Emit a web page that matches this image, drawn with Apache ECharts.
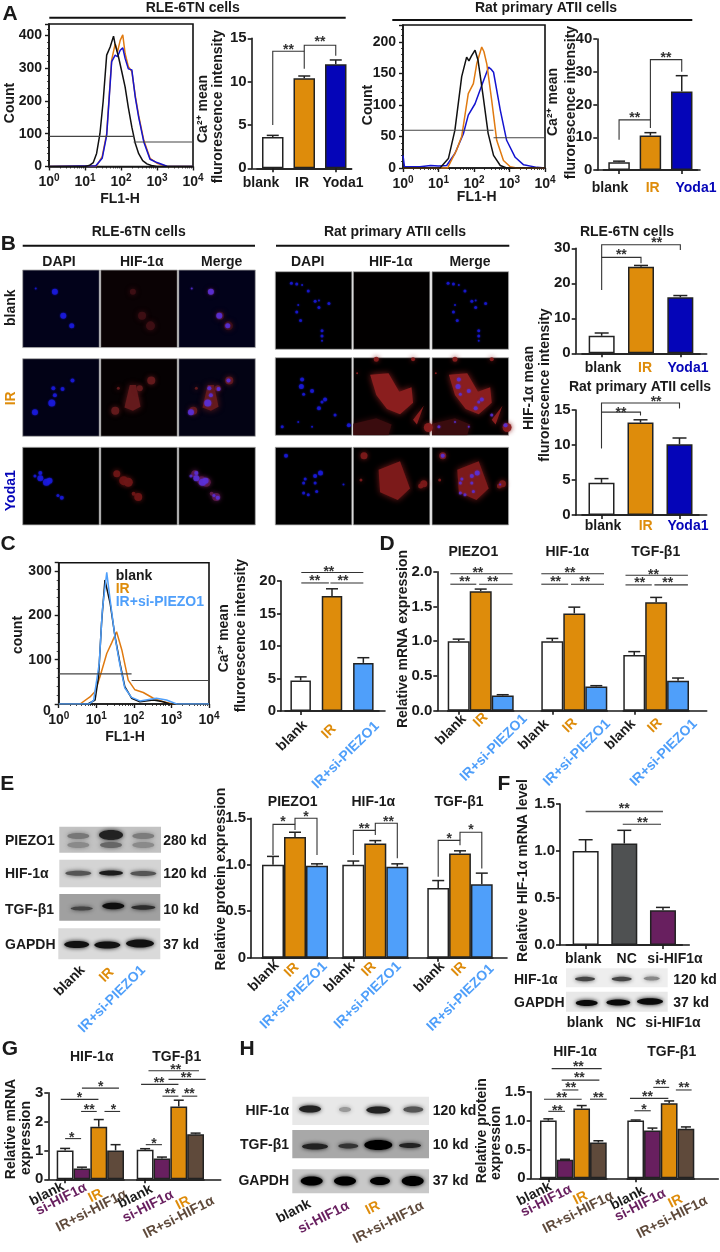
<!DOCTYPE html>
<html>
<head>
<meta charset="utf-8">
<style>html,body{margin:0;padding:0;background:#fff}#main{width:720px;height:1252px}</style>
<script src="https://cdn.jsdelivr.net/npm/echarts@6/dist/echarts.min.js"></script>
</head>
<body>
<div id="main"></div>
<script>
// ---- values ----
const threeYoda = ['blank', 'IR', 'Yoda1'];
const threePiezo = ['blank', 'IR', 'IR+si-PIEZO1'];
const threeF = ['blank', 'NC', 'si-HIF1α'];
const fourHif = ['blank', 'si-HIF1α', 'IR', 'IR+si-HIF1α'];

const a1Values = [3.6, 10.4, 12.0], a1Errors = [0.2, 0.25, 0.5];
const a2Values = [2.4, 10.5, 24.0], a2Errors = [0.3, 0.9, 4.8];
const b1Values = [5.0, 24.7, 16.0], b1Errors = [0.8, 0.4, 0.5];
const b2Values = [4.6, 13.2, 10.1], b2Errors = [0.6, 0.4, 0.9];
const cValues = [4.7, 17.7, 7.4], cErrors = [0.55, 1.1, 0.8];
const dPiezo = [1.0, 1.72, 0.22], dPiezoErr = [0.03, 0.03, 0.01];
const dHif = [1.0, 1.4, 0.35], dHifErr = [0.04, 0.09, 0.01];
const dTgf = [0.8, 1.56, 0.43], dTgfErr = [0.05, 0.07, 0.04];
const ePiezo = [1.0, 1.3, 0.99], ePiezoErr = [0.09, 0.05, 0.02];
const eHif = [1.0, 1.23, 0.98], eHifErr = [0.04, 0.03, 0.03];
const eTgf = [0.75, 1.12, 0.79], eTgfErr = [0.08, 0.03, 0.12];
const fValues = [1.0, 1.08, 0.37], fErrors = [0.12, 0.14, 0.03];
const gHif = [1.0, 0.37, 1.82, 1.0], gHifErr = [0.07, 0.05, 0.25, 0.2];
const gTgf = [1.02, 0.72, 2.52, 1.56], gTgfErr = [0.04, 0.05, 0.22, 0.04];
const hHif = [1.0, 0.32, 1.21, 0.62], hHifErr = [0.03, 0.01, 0.05, 0.03];
const hTgf = [1.0, 0.83, 1.3, 0.86], hTgfErr = [0.01, 0.04, 0.04, 0.03];

// flow histograms, [FL1-H, count]
const a1Black = [[1,0],[10,0],[13,3],[17,12],[21,40],[26,100],[32,200],[40,340],[50,365],[62,398],[68,375],[85,335],[105,290],[130,243],[160,180],[200,120],[250,70],[310,39],[400,18],[525,8],[700,3],[1000,0],[10000,0]];
const a1Orange = [[1,0],[21,2],[30,30],[40,100],[55,325],[69,375],[80,350],[95,385],[112,402],[130,345],[160,305],[200,290],[250,215],[310,155],[430,80],[640,25],[1000,10],[1900,0],[10000,0]];
const a1Blue = [[1,0],[20,2],[30,25],[40,95],[55,320],[69,340],[80,335],[95,355],[112,362],[130,330],[160,298],[200,295],[250,210],[310,150],[430,75],[640,22],[1000,12],[1900,1],[10000,0]];
const a2Black = [[1,0],[11,0],[19,15],[29,60],[45,145],[62,176],[72,170],[85,178],[107,187],[130,171],[182,113],[250,55],[355,20],[550,4],[830,0],[10000,0]];
const a2Orange = [[1,0],[18,0],[32,28],[45,50],[69,118],[96,134],[120,166],[165,192],[190,185],[230,165],[316,107],[436,44],[676,12],[1050,2],[1600,0],[10000,0]];
const a2Blue = [[1,20],[1.1,2],[3,2],[6,4],[10,3],[17,4],[29,23],[50,54],[69,84],[107,102],[165,131],[257,160],[300,157],[355,152],[550,92],[830,44],[1445,17],[2500,5],[5900,1],[10000,0]];
const cBlack = [[1,0],[6,0],[9.3,9],[11.5,62],[13.8,182],[17,280],[19,283],[23.4,227],[31.6,152],[42.7,92],[57.5,39],[87,13],[145,5],[331,9],[600,5],[900,0],[10000,0]];
const cOrange = [[1,0],[3.7,0],[6.8,16],[9.3,28],[12.6,62],[19,114],[25.7,138],[34.7,163],[47.9,122],[70.8,54],[107,32],[178,26],[331,13],[600,5],[1120,0],[10000,0]];
const cSky = [[1,0],[6.5,0],[8.5,8],[12,92],[14.5,212],[19,297],[23.4,235],[31.6,150],[42.7,88],[57.5,36],[87,15],[145,7],[398,13],[741,9],[1380,0],[10000,0]];

// micrographs, [x%, y%, size] for spots, polygons in %
const nucleiLeftBlank = [[42,28,6],[53,59,6],[64,72,5],[17,24,2]];
const nucleiLeftIr = [[16,69,6],[38,57,7],[42,47,4],[52,39,4],[65,28,4],[40,38,4]];
const nucleiLeftYoda = [[23,40,6],[31,45,7],[16,37,3],[35,43,6],[23,33,4],[51,65,4],[46,62,3]];
const nucleiRightBlank = [[21,15,3],[28,16,3],[35,17,2],[43,25,3],[52,38,3],[57,37,2],[70,41,3],[57,46,3],[30,43,2],[28,52,3],[33,63,3],[61,76,3],[61,83,3],[61,89,2]];
const nucleiRightIr = [[35,28,4],[34,37,5],[37,47,3],[48,43,4],[65,54,4],[61,57,3],[57,65,4],[78,74,3],[9,89,3],[30,83,2],[96,87,4],[48,89,2]];
const nucleiRightYoda = [[14,11,4],[59,33,5],[52,37,4],[39,41,3],[52,46,3],[37,46,3],[54,57,3],[43,61,3],[37,59,3],[89,48,2]];

const spotsLeftBlank = [[42,28,6],[54,59,8],[65,72,9]];
const spotsLeftIr = [[66,28,8],[51,38,6],[19,67,8],[23,38,3]];
const spotsLeftYoda = [[30,43,9],[21,34,7],[36,45,9],[49,64,8],[43,60,4]];
const spotsRightIr = [[30,2,5],[78,2,4],[98,90,9],[5,20,2]];
const spotsRightYoda = [[14,11,7],[92,47,7],[88,50,5],[10,42,3]];
const polysLeftIr = [[[31,63],[38,34],[46,34],[52,62],[42,67]]];
const polysRightIr = [
  [[22,22],[46,20],[60,44],[76,38],[78,58],[61,73],[44,66],[30,48]],
  [[78,80],[92,62],[83,86]]
];
const polysRightIrDim = [[[0,85],[30,78],[50,86],[46,100],[0,100]]];
const polysRightYoda = [[[33,29],[61,18],[74,53],[58,68],[35,58]]];

// ---- styles ----
const FONT = '"Liberation Sans", Arial, sans-serif';
const INK = '#1a1a1a', ORANGE = '#DE8C0B', BLUE = '#0505B8', SKY = '#4F9FFA', PURPLE = '#681F5F', BROWN = '#5F4A3B', SLATE = '#4F5152';
const labelColor = {blank: INK, NC: INK, IR: ORANGE, Yoda1: BLUE, 'IR+si-PIEZO1': SKY, 'si-HIF1α': PURPLE, 'IR+si-HIF1α': BROWN};
const yodaFill = ['#fff', ORANGE, BLUE], piezoFill = ['#fff', ORANGE, SKY], hifFill = ['#fff', PURPLE, ORANGE, BROWN];

const option = {animation: false, backgroundColor: '#fff', grid: [], xAxis: [], yAxis: [], series: [], graphic: {elements: []}};
const texts = option.graphic.elements;

function txt(x, y, text, o) {
  o = o || {};
  texts.push({
    type: 'text', x: x, y: y, rotation: o.rot || 0, z: 50,
    style: {
      text: text, fill: o.color || INK, font: 'bold ' + (o.size || 14) + 'px ' + FONT,
      textAlign: o.align || 'center', textVerticalAlign: 'middle', align: o.align || 'center', verticalAlign: 'middle'
    }
  });
}
function vtxt(x, y, text, o) { txt(x, y, text, Object.assign({rot: Math.PI / 2}, o)); }
function rule(x0, x1, y) {
  texts.push({type: 'rect', shape: {x: x0, y: y - 1, width: x1 - x0, height: 2}, style: {fill: '#111'}, z: 50});
}

function addGrid(left, right, top, bottom, extra) {
  option.grid.push(Object.assign({left: left, top: top, width: right - left, height: bottom - top}, extra));
  return option.grid.length - 1;
}

const axisLine = {show: true, onZero: false, lineStyle: {color: INK, width: 1.6}};

// one bar chart: frame grid carries the y axis and the long base line,
// each group gets its own category axis on the same y scale
function barPanel(p) {
  const f = addGrid(p.axis, p.end, p.top, p.bottom);
  option.xAxis.push({gridIndex: f, type: 'category', data: [''], axisLine: axisLine, axisTick: {show: false}, axisLabel: {show: false}});
  option.yAxis.push({
    gridIndex: f, type: 'value', min: 0, max: p.max, interval: p.step, splitLine: {show: false}, axisLine: axisLine,
    axisTick: {show: true, length: 4, lineStyle: {color: INK, width: 1.6}},
    axisLabel: {color: INK, fontFamily: FONT, fontWeight: 'bold', fontSize: 15, margin: 5, formatter: p.fmt}
  });
  p.groups.forEach((g) => {
    const i = addGrid(g.left, g.right, p.top, p.bottom);
    option.xAxis.push({
      gridIndex: i, type: 'category', data: g.names,
      axisLine: axisLine, axisTick: {show: true, alignWithLabel: true, length: 4, lineStyle: {color: INK, width: 1.6}},
      axisLabel: {show: false}
    });
    option.yAxis.push({gridIndex: i, type: 'value', min: 0, max: p.max, show: false, splitLine: {show: false}});
    // the labels sit off their ticks in the picture, so they are placed one by one
    g.names.forEach((n, k) => {
      txt(g.at[k][0], g.at[k][1], n, {
        color: g.plain ? INK : labelColor[n],
        rot: (g.rot || 0) * Math.PI / 180,
        align: g.rot ? 'right' : 'center'
      });
    });
    option.series.push({
      type: 'bar', xAxisIndex: i, yAxisIndex: i, barWidth: g.barWidth, z: 3,
      data: g.values.map((v, k) => ({value: v, itemStyle: {color: g.fill[k], borderColor: '#222', borderWidth: 1.5}}))
    });
    const cap = g.cap || 6;
    option.series.push({
      type: 'custom', xAxisIndex: i, yAxisIndex: i, z: 2,
      data: g.values.map((v, k) => [k, v, v + g.errors[k]]),
      renderItem: (params, api) => {
        const a = api.coord([api.value(0), api.value(1)]), b = api.coord([api.value(0), api.value(2)]);
        return {type: 'group', children: [
          {type: 'line', shape: {x1: a[0], y1: a[1], x2: b[0], y2: b[1]}, style: {stroke: '#222', lineWidth: 1.5}},
          {type: 'line', shape: {x1: b[0] - cap, y1: b[1], x2: b[0] + cap, y2: b[1]}, style: {stroke: '#222', lineWidth: 1.5}}
        ]};
      }
    });
    if (g.marks) {
      option.series.push({
        type: 'custom', xAxisIndex: i, yAxisIndex: i, z: 6, silent: true,
        data: g.marks.map((m, k) => [0, 0, k]),
        renderItem: (params, api) => {
          const m = g.marks[api.value(2)];
          const step = api.size([1, 0])[0], x0 = api.coord([0, 0])[0];
          // mark x is counted in bands from the left edge of the group, 0.5 is the first bar
          const at = (q) => [x0 + (q[0] - 0.5) * step, api.coord([0, q[1]])[1]];
          const c = at(m.at);
          return {type: 'group', children: [
            {type: 'polyline', shape: {points: m.p.map(at)}, style: {fill: 'none', stroke: m.gray ? '#555' : '#333', lineWidth: m.gray ? 1.6 : 1.1}},
            {type: 'text', style: {x: c[0], y: c[1] + 3, text: m.s, fill: '#333', font: 'bold 14px ' + FONT, textAlign: 'center', textVerticalAlign: 'middle', align: 'center', verticalAlign: 'middle'}}
          ]};
        }
      });
    }
  });
}

function flat(x0, x1, y, s, sx, sy) { return {p: [[x0, y], [x1, y]], s: s, at: [sx, sy]}; }

// flow histogram on a log x axis
function histPanel(p) {
  const i = addGrid(p.left, p.right, p.top, p.bottom, {show: true, borderColor: '#111', borderWidth: 1.6, backgroundColor: '#fff'});
  option.xAxis.push({
    gridIndex: i, type: 'log', logBase: 10, min: 1, max: 10000, splitLine: {show: false}, axisLine: axisLine,
    axisTick: {show: true, length: 4, lineStyle: {color: INK, width: 1.4}},
    minorTick: {show: true, splitNumber: 9, length: 2, lineStyle: {color: INK, width: 0.8}}, minorSplitLine: {show: false},
    axisLabel: {
      showMinLabel: true, showMaxLabel: true, margin: 7, color: INK, fontFamily: FONT, fontWeight: 'bold', fontSize: 14,
      formatter: (v) => '10{s|' + Math.round(Math.log10(v)) + '}',
      rich: {s: {fontSize: 10, fontFamily: FONT, fontWeight: 'bold', color: INK, verticalAlign: 'top', padding: [0, 0, 8, 0]}}
    }
  });
  option.yAxis.push({
    gridIndex: i, type: 'value', min: 0, max: p.max, interval: p.step, splitLine: {show: false}, axisLine: axisLine,
    axisTick: {show: true, length: 4, lineStyle: {color: INK, width: 1.4}},
    minorTick: {show: true, splitNumber: 5, length: 2, lineStyle: {color: INK, width: 0.8}},
    axisLabel: {
      color: INK, fontFamily: FONT, fontWeight: 'bold', fontSize: 14, margin: 7,
      formatter: (v) => (v % p.step !== 0 || (p.noZero && v === 0) ? '' : v)
    }
  });
  p.curves.forEach((c) => {
    option.series.push({type: 'line', xAxisIndex: i, yAxisIndex: i, data: c[0], showSymbol: false, silent: true, lineStyle: {color: c[1], width: 1.5}, z: c[2] || 3});
  });
  p.gates.forEach((g) => {
    option.series.push({type: 'line', xAxisIndex: i, yAxisIndex: i, data: g, showSymbol: false, silent: true, lineStyle: {color: '#444', width: 1.1}, z: 5});
  });
}

// micrograph tile
function photo(left, top, bg, reds, polys, redColor, nuclei, nucleiColor, dimPolys) {
  const i = addGrid(left, left + 76.6, top, top + 77.6, {show: true, backgroundColor: bg, borderColor: '#aaa', borderWidth: 0.8});
  option.xAxis.push({gridIndex: i, type: 'value', min: 0, max: 100, show: false});
  option.yAxis.push({gridIndex: i, type: 'value', min: 0, max: 100, inverse: true, show: false});
  const polyLayer = (list, fill, z) => {
    option.series.push({
      type: 'custom', xAxisIndex: i, yAxisIndex: i, silent: true, clip: true, z: z,
      data: list.map((q, k) => [0, 0, k]),
      renderItem: (params, api) => ({
        type: 'polygon', shape: {points: list[api.value(2)].map((q) => api.coord(q))},
        style: {fill: fill, shadowBlur: 6, shadowColor: fill}
      })
    });
  };
  if (dimPolys) polyLayer(dimPolys, '#3a0c0e', 1);
  if (polys) polyLayer(polys, redColor, 2);
  if (reds) {
    option.series.push({
      type: 'scatter', xAxisIndex: i, yAxisIndex: i, silent: true, clip: true, z: 3, data: reds, symbolSize: (d) => d[2],
      itemStyle: {color: redColor, opacity: 0.95, shadowBlur: 5, shadowColor: redColor}
    });
  }
  if (nuclei) {
    option.series.push({
      type: 'scatter', xAxisIndex: i, yAxisIndex: i, silent: true, clip: true, z: 4, data: nuclei, symbolSize: (d) => d[2],
      itemStyle: {color: nucleiColor, shadowBlur: 2, shadowColor: nucleiColor}
    });
  }
}

function blot(x, y, w, h, bg, bands) {
  texts.push({type: 'rect', shape: {x: x, y: y, width: w, height: h}, style: {fill: bg}, z: 40});
  bands.forEach((b) => {
    texts.push({type: 'ellipse', shape: {cx: b[0], cy: b[1], rx: b[2], ry: b[3]}, style: {fill: b[4], shadowBlur: 4, shadowColor: b[4]}, z: 41});
  });
}

// ---- panel A ----
txt(10, 14, 'A', {size: 21, align: 'center'});
txt(192.7, 8.3, 'RLE-6TN cells');
rule(49.3, 345.7, 17.7);
txt(546, 8.3, 'Rat primary ATII cells');
rule(392.3, 692.3, 20);

histPanel({left: 49, right: 193, top: 24, bottom: 166.5, max: 435, step: 100,
  curves: [[a1Orange, '#E07A10'], [a1Blue, '#1414D0', 4], [a1Black, '#111', 5]],
  gates: [[[1, 92], [224, 92]], [[224, 75], [10000, 75]]]});
vtxt(10, 103, 'Count');
txt(120, 199, 'FL1-H');

barPanel({axis: 251.7, end: 351.5, top: 38.3, bottom: 168.3, max: 15, step: 5, groups: [{
  left: 257, right: 351.5, names: threeYoda, plain: true, values: a1Values, errors: a1Errors, fill: yodaFill, barWidth: 21.5,
  at: [[261, 182.7], [302, 182.7], [343, 182.7]],
  marks: [
    {p: [[0.5, 5], [0.5, 13.5], [1.5, 13.5], [1.5, 11.5]], s: '**', at: [1, 14]},
    {p: [[1.5, 13.5], [1.5, 14.2], [2.5, 14.2], [2.5, 13]], s: '**', at: [2, 14.9]}
  ]
}]});
vtxt(203, 109, 'Ca²⁺ mean');
vtxt(218, 106.7, 'flurorescence intensity');

histPanel({left: 403, right: 545, top: 25, bottom: 168, max: 227, step: 50,
  curves: [[a2Orange, '#E07A10', 4], [a2Blue, '#1414D0'], [a2Black, '#111', 5]],
  gates: [[[1, 60], [355, 60]], [[355, 48], [10000, 48]]]});
vtxt(368, 105, 'Count');
txt(476.7, 197, 'FL1-H');

barPanel({axis: 597.3, end: 700, top: 39, bottom: 170, max: 40, step: 10, groups: [{
  left: 603.4, right: 697.4, names: threeYoda, values: a2Values, errors: a2Errors, fill: yodaFill, barWidth: 21.5,
  at: [[610, 188], [652.7, 188], [696, 188]],
  marks: [
    {p: [[0.5, 9.2], [0.5, 15.3], [1.5, 15.3], [1.5, 12.8]], s: '**', at: [1, 16.6]},
    {p: [[1.5, 15.3], [1.5, 33.7], [2.5, 33.7], [2.5, 30]], s: '**', at: [2, 35.2]}
  ]
}]});
vtxt(553.3, 102, 'Ca²⁺ mean');
vtxt(570.7, 102.5, 'flurorescence intensity');

// ---- panel B ----
txt(8.3, 244, 'B', {size: 21});
txt(138.7, 231.7, 'RLE-6TN cells');
rule(22.7, 255, 245.7);
txt(395, 231.7, 'Rat primary ATII cells');
rule(276, 509.3, 245.7);
[[59, 'DAPI'], [141.7, 'HIF-1α'], [221.7, 'Merge'], [307.7, 'DAPI'], [390.7, 'HIF-1α'], [470, 'Merge']].forEach((h) => txt(h[0], 262.3, h[1]));
vtxt(11, 307.7, 'blank');
vtxt(11, 398.3, 'IR', {color: ORANGE});
vtxt(11, 490.7, 'Yoda1', {color: BLUE});

const leftX = [22.7, 100.7, 178.7], rightX = [275.3, 353.3, 432];
const DAPI = '#1a1ae0', MERGE = '#5a30d8';
photo(leftX[0], 270, '#02021a', null, null, null, nucleiLeftBlank, DAPI);
photo(leftX[1], 270, '#0a0204', spotsLeftBlank, null, '#3e0f14');
photo(leftX[2], 270, '#02021a', spotsLeftBlank, null, '#3e0f14', nucleiLeftBlank, MERGE);
photo(leftX[0], 358.7, '#020216', null, null, null, nucleiLeftIr, DAPI);
photo(leftX[1], 358.7, '#050102', spotsLeftIr, polysLeftIr, '#641a1c');
photo(leftX[2], 358.7, '#030314', spotsLeftIr, polysLeftIr, '#641a1c', nucleiLeftIr, MERGE);
photo(leftX[0], 447.3, '#000', null, null, null, nucleiLeftYoda, DAPI);
photo(leftX[1], 447.3, '#000', spotsLeftYoda, null, '#6e1616');
photo(leftX[2], 447.3, '#000', spotsLeftYoda, null, '#5e1a48', nucleiLeftYoda, MERGE);
photo(rightX[0], 271.7, '#000', null, null, null, nucleiRightBlank, DAPI);
photo(rightX[1], 271.7, '#020000', null, null, null);
photo(rightX[2], 271.7, '#000', null, null, null, nucleiRightBlank, DAPI);
photo(rightX[0], 357.7, '#000', null, null, null, nucleiRightIr, DAPI);
photo(rightX[1], 357.7, '#000', spotsRightIr, polysRightIr, '#8a1e1e', null, null, polysRightIrDim);
photo(rightX[2], 357.7, '#000', spotsRightIr, polysRightIr, '#8a1e1e', nucleiRightIr, MERGE, polysRightIrDim);
photo(rightX[0], 447.3, '#000', null, null, null, nucleiRightYoda, DAPI);
photo(rightX[1], 447.3, '#000', spotsRightYoda, polysRightYoda, '#7c1a1a');
photo(rightX[2], 447.3, '#000', spotsRightYoda, polysRightYoda, '#7c1a1a', nucleiRightYoda, MERGE);

txt(627, 231.7, 'RLE-6TN cells');
barPanel({axis: 575.7, end: 706.7, top: 248.3, bottom: 353.3, max: 30, step: 10, groups: [{
  left: 582, right: 700, names: threeYoda, values: b1Values, errors: b1Errors, fill: yodaFill, barWidth: 26, cap: 7,
  at: [[603, 367.7], [645, 367.7], [688, 367.7]],
  marks: [
    {p: [[0.5, 18.1], [0.5, 27.4], [1.5, 27.4], [1.5, 25.7]], s: '**', at: [1, 28.8]},
    {p: [[0.5, 27.4], [0.5, 31], [2.5, 31], [2.5, 29.5]], s: '**', at: [1.9, 32.2]}
  ]
}]});
txt(640, 387.3, 'Rat primary ATII cells');
barPanel({axis: 575.7, end: 706.7, top: 410, bottom: 515, max: 15, step: 5, groups: [{
  left: 582, right: 699, names: threeYoda, values: b2Values, errors: b2Errors, fill: yodaFill, barWidth: 26, cap: 7,
  at: [[603, 525.7], [645.7, 525.7], [688, 525.7]],
  marks: [
    {p: [[0.5, 9.5], [0.5, 14.7], [1.5, 14.7], [1.5, 14.2]], s: '**', at: [1, 15]},
    {p: [[0.5, 14.7], [0.5, 16], [2.5, 16], [2.5, 15.2]], s: '**', at: [1.9, 16.5]}
  ]
}]});
vtxt(529, 388, 'HIF-1α mean');
vtxt(545, 385, 'flurorescence intensity');

// ---- panel C ----
txt(8, 544, 'C', {size: 21});
histPanel({left: 58.7, right: 209, top: 562.7, bottom: 704, max: 319, step: 100, noZero: true,
  curves: [[cOrange, '#E07A10'], [cBlack, '#111', 4], [cSky, SKY, 5]],
  gates: [[[1, 68], [87, 68]], [[87, 53], [10000, 53]]]});
txt(47, 711, '0');
vtxt(18.3, 635, 'count');
txt(125, 737, 'FL1-H');
txt(115.7, 575.7, 'blank', {align: 'left'});
txt(115.7, 589, 'IR', {align: 'left', color: ORANGE});
txt(115.7, 602.3, 'IR+si-PIEZO1', {align: 'left', color: SKY});

barPanel({axis: 281, end: 385, top: 581, bottom: 711, max: 20, step: 5, groups: [{
  left: 285, right: 379, names: threePiezo, values: cValues, errors: cErrors, fill: piezoFill, barWidth: 20.5, rot: 45,
  at: [[305, 723], [334, 726.7], [377, 724]],
  marks: [
    flat(0.52, 1.4, 19.7, '**', 0.95, 20.4),
    flat(1.45, 2.5, 19.7, '**', 1.85, 20.4),
    flat(0.52, 2.5, 21.3, '**', 1.4, 21.9)
  ]
}]});
vtxt(224, 638.3, 'Ca²⁺ mean');
vtxt(240.7, 635.7, 'flurorescence intensity');

// ---- panel D ----
txt(387, 544, 'D', {size: 21});
const one = (v) => v.toFixed(1);
const dMarks = (off, y0, y1, a, b, c, d, s1, s2, s3) => [
  flat(a + off, b + off, y0, '**', s1 + off, y0 + 0.07),
  flat(c + off, d + off, y0, '**', s2 + off, y0 + 0.07),
  flat(a + off, d + off, y1, '**', s3 + off, y1 + 0.05)
];
barPanel({axis: 437.3, end: 706.7, top: 571.7, bottom: 710.7, max: 2, step: 0.5, fmt: one, groups: [
  {left: 447.7, right: 513.7, names: threePiezo, values: dPiezo, errors: dPiezoErr, fill: piezoFill, barWidth: '100%', rot: 45,
    at: [[464, 717], [485.7, 715], [525, 716.7]],
    marks: dMarks(0.5, 1.82, 1.97, -0.38, 0.8, 0.93, 2.45, 0.27, 1.55, 0.87)},
  {left: 541.3, right: 607.3, names: threePiezo, values: dHif, errors: dHifErr, fill: piezoFill, barWidth: '100%', rot: 45,
    at: [[546.7, 721.7], [575, 720.7], [608.3, 721.7]],
    marks: dMarks(0.5, 1.82, 1.97, -0.5, 0.72, 0.85, 2.35, 0.15, 1.47, 0.8)},
  {left: 623.3, right: 689, names: threePiezo, values: dTgf, errors: dTgfErr, fill: piezoFill, barWidth: '100%', rot: 45,
    at: [[633.3, 721.7], [660, 720.7], [695, 721.7]],
    marks: dMarks(0.5, 1.81, 1.95, -0.4, 0.8, 0.92, 2.45, 0.25, 1.53, 0.88)}
]});
txt(473.3, 552.3, 'PIEZO1');
txt(567.3, 552.3, 'HIF-1α');
txt(655.7, 552.3, 'TGF-β1');
vtxt(403.3, 639, 'Relative mRNA expression');

// ---- panel E ----
txt(7.3, 784, 'E', {size: 21});
const zeroPlain = (v) => (v === 0 ? '0' : v.toFixed(1));
barPanel({axis: 251, end: 507, top: 818.3, bottom: 957.7, max: 1.5, step: 0.5, fmt: zeroPlain, groups: [
  {left: 262, right: 328, names: threePiezo, values: ePiezo, errors: ePiezoErr, fill: piezoFill, barWidth: '100%', rot: 45,
    at: [[276.7, 963.3], [296.7, 965], [325, 964.3]],
    marks: [
      {p: [[0.5, 1.105], [0.5, 1.435], [1.5, 1.435], [1.5, 1.374]], s: '*', at: [0.95, 1.49]},
      {p: [[1.5, 1.435], [1.5, 1.5], [2.5, 1.5], [2.5, 1.105]], s: '*', at: [2, 1.55]}
    ]},
  {left: 342.3, right: 408.3, names: threePiezo, values: eHif, errors: eHifErr, fill: piezoFill, barWidth: '100%', rot: 45,
    at: [[352.3, 964.3], [374, 964.3], [399, 964.3]],
    marks: [
      {p: [[0.5, 1.105], [0.5, 1.37], [1.5, 1.37], [1.5, 1.32]], s: '**', at: [1, 1.42]},
      {p: [[1.5, 1.37], [1.5, 1.446], [2.5, 1.446], [2.5, 1.07]], s: '**', at: [2.1, 1.49]}
    ]},
  {left: 427.3, right: 492.7, names: threePiezo, values: eTgf, errors: eTgfErr, fill: piezoFill, barWidth: '100%', rot: 45,
    at: [[442.3, 964.3], [464, 964.3], [491.7, 966.7]],
    marks: [
      {p: [[0.5, 0.87], [0.5, 1.263], [1.5, 1.263], [1.5, 1.21]], s: '*', at: [1, 1.31]},
      {p: [[1.5, 1.263], [1.5, 1.35], [2.5, 1.35], [2.5, 0.96]], s: '*', at: [2, 1.4]}
    ]}
]});
txt(292.7, 801.7, 'PIEZO1');
txt(373.3, 801.7, 'HIF-1α');
txt(459, 801.7, 'TGF-β1');
vtxt(220.7, 879.2, 'Relative protein expression');

blot(59.3, 826.7, 101.7, 26, '#c2c2c2', [[78.3, 836, 11, 3, '#777'], [78.3, 845, 11, 3, '#8a8a8a'], [111, 835, 12, 5, '#222'], [111, 845, 11, 3, '#666'], [143.3, 836, 11, 3, '#7c7c7c'], [143.3, 845, 11, 3, '#8a8a8a']]);
blot(59.3, 859.7, 101.7, 27.6, '#d4d4d4', [[78.3, 873.3, 13, 2.5, '#555'], [111, 873, 12, 2.5, '#1c1c1c'], [143.3, 873.5, 13, 2.5, '#555']]);
blot(59.3, 894, 101, 26.7, '#a0a0a0', [[81.7, 908.5, 11, 2, '#444'], [113.3, 906, 11, 3.2, '#0e0e0e'], [143.3, 907.5, 12, 2.2, '#2c2c2c']]);
blot(58.3, 928.3, 102, 31, '#dadada', [[76.7, 944.5, 12.5, 3.5, '#111'], [107.3, 945, 13, 3.5, '#111'], [140, 943.5, 14, 4, '#111']]);
[['PIEZO1', 840.7, '280 kd'], ['HIF-1α', 874, '120 kd'], ['TGF-β1', 910, '10 kd'], ['GAPDH', 945, '37 kd']].forEach((r) => {
  txt(5, r[1], r[0], {align: 'left'});
  txt(163.3, r[1], r[2], {align: 'left'});
});
const slant = Math.PI / 4;
txt(82.7, 968, 'blank', {rot: slant, align: 'right'});
txt(111.7, 970, 'IR', {rot: slant, align: 'right', color: ORANGE});
txt(143.3, 968, 'IR+si-PIEZO1', {rot: slant, align: 'right', color: SKY});

// ---- panel F ----
txt(504, 784, 'F', {size: 21});
barPanel({axis: 560, end: 689.3, top: 804, bottom: 945, max: 1.5, step: 0.5, fmt: one, groups: [{
  left: 566.3, right: 682.3, names: threeF, values: fValues, errors: fErrors, fill: ['#fff', SLATE, PURPLE], barWidth: 26, cap: 7, plain: true,
  at: [[583.3, 959], [626.7, 959], [675, 959]],
  marks: [
    Object.assign(flat(0.5, 2.5, 1.42, '**', 1.5, 1.476), {gray: true}),
    flat(1.46, 2.45, 1.284, '**', 1.97, 1.33)
  ]
}]});
vtxt(523.3, 870.5, 'Relative HIF-1α mRNA level');
blot(566, 968.3, 101.7, 19, '#eeeeee', [[585, 979, 10, 2.2, '#444'], [621.7, 979, 10, 2.2, '#444'], [651.7, 978.5, 8, 2, '#888']]);
blot(566, 991.7, 101.7, 20, '#e8e8e8', [[586.7, 1003, 11, 3, '#0a0a0a'], [618.3, 1002.5, 12, 3, '#0a0a0a'], [650, 1001.5, 13, 3.2, '#0a0a0a']]);
txt(514, 980.3, 'HIF-1α', {align: 'left'});
txt(514, 1003, 'GAPDH', {align: 'left'});
txt(673.3, 980.3, '120 kd', {align: 'left'});
txt(673.3, 1003, '37 kd', {align: 'left'});
txt(585, 1023.3, 'blank');
txt(626, 1023.3, 'NC');
txt(673, 1023.3, 'si-HIF1α');

// ---- panel G ----
txt(10, 1049, 'G', {size: 21});
const mark = (x0, x1, y, s, sx, sy) => flat(x0 + 0.5, x1 + 0.5, y, s, sx + 0.5, sy);
barPanel({axis: 48.3, end: 220.7, top: 1092.7, bottom: 1179.3, max: 3, step: 1, groups: [
  {left: 56.7, right: 124, names: fourHif, values: gHif, errors: gHifErr, fill: hifFill, barWidth: '100%', rot: 27, cap: 5,
    at: [[63.3, 1185.7], [86, 1186.7], [101.7, 1192.7], [126, 1193.3]],
    marks: [
      mark(0, 0.95, 1.41, '*', 0.4, 1.52), mark(0.95, 1.88, 2.35, '**', 1.43, 2.5), mark(2.34, 3.27, 2.35, '*', 2.87, 2.5),
      mark(-0.26, 1.98, 2.77, '*', 0.85, 2.92), mark(1, 3.2, 3.16, '*', 2.12, 3.3)
    ]},
  {left: 136.7, right: 204, names: fourHif, values: gTgf, errors: gTgfErr, fill: hifFill, barWidth: '100%', rot: 27, cap: 5,
    at: [[151.7, 1188.3], [172.7, 1194], [189.3, 1200], [213.3, 1200]],
    marks: [
      mark(0.04, 1, 1.2, '*', 0.53, 1.33), mark(1.03, 1.98, 2.88, '**', 1.49, 3.05), mark(2.18, 3.1, 2.88, '**', 2.63, 3.05),
      mark(-0.24, 1.98, 3.29, '**', 0.83, 3.44), mark(1.39, 3.6, 3.46, '**', 2.44, 3.61), mark(0.2, 3.2, 3.76, '**', 1.82, 3.9)
    ]}
]});
txt(91.7, 1056.7, 'HIF-1α');
txt(176.7, 1056.7, 'TGF-β1');
vtxt(11, 1129, 'Relative mRNA');
vtxt(26, 1138, 'expression');

// ---- panel H ----
txt(247, 1049, 'H', {size: 21});
blot(292.3, 1096.7, 136.7, 28.3, '#e8e8e8', [[310, 1109, 11, 3.5, '#222'], [345, 1109.5, 6, 2.5, '#999'], [378.3, 1110, 12, 3.5, '#222'], [413.3, 1109.5, 10, 3, '#555']]);
blot(292.3, 1130, 136.7, 28.3, '#a8a8a8', [[315, 1146.5, 13, 3, '#222'], [348.3, 1146, 10, 2.5, '#333'], [378.3, 1145, 14, 5, '#000'], [410, 1145.5, 11, 2.5, '#222']]);
blot(292.3, 1169.3, 136.7, 24, '#c8c8c8', [[311.7, 1181, 11, 4.5, '#000'], [345, 1181, 11, 4.5, '#000'], [380, 1181, 10, 4, '#000'], [412.7, 1181, 11, 5, '#000']]);
[['HIF-1α', 1111, '120 kd'], ['TGF-β1', 1145, '10 kd'], ['GAPDH', 1180.7, '37 kd']].forEach((r) => {
  txt(289, r[1], r[0], {align: 'right'});
  txt(432.7, r[1], r[2], {align: 'left'});
});
const tilt = 27 * Math.PI / 180;
txt(310, 1203, 'blank', {rot: tilt, align: 'right'});
txt(348.3, 1205, 'si-HIF1α', {rot: tilt, align: 'right', color: PURPLE});
txt(379, 1205, 'IR', {rot: tilt, align: 'right', color: ORANGE});
txt(423, 1205, 'IR+si-HIF1α', {rot: tilt, align: 'right', color: BROWN});

barPanel({axis: 530.7, end: 718.3, top: 1091.7, bottom: 1178.3, max: 1.5, step: 0.5, fmt: zeroPlain, groups: [
  {left: 540, right: 606.7, names: fourHif, values: hHif, errors: hHifErr, fill: hifFill, barWidth: '100%', rot: 27, cap: 5,
    at: [[550.7, 1185.7], [571, 1188.3], [586.7, 1195], [612.7, 1195]],
    marks: [
      mark(0, 1, 1.16, '**', 0.54, 1.21), mark(-0.26, 2, 1.37, '**', 0.8, 1.44), mark(2.5, 3.5, 1.37, '**', 3, 1.44),
      mark(0.84, 1.8, 1.53, '**', 1.34, 1.62), mark(0.8, 3.06, 1.7, '**', 1.86, 1.78), mark(0.2, 3.2, 1.9, '**', 1.8, 1.98)
    ]},
  {left: 627.3, right: 694.3, names: fourHif, values: hTgf, errors: hTgfErr, fill: hifFill, barWidth: '100%', rot: 27, cap: 5,
    at: [[644, 1190], [665, 1192.7], [681.7, 1198.3], [706.7, 1200]],
    marks: [
      mark(-0.08, 0.9, 1.17, '*', 0.5, 1.23), mark(-0.34, 1.95, 1.385, '**', 0.7, 1.46), mark(1.05, 2, 1.575, '**', 1.5, 1.66),
      mark(2.4, 3.34, 1.53, '**', 2.88, 1.61)
    ]}
]});
txt(575, 1052.3, 'HIF-1α');
txt(671.7, 1052.3, 'TGF-β1');
vtxt(481.7, 1130.8, 'Relative protein');
vtxt(496.5, 1143, 'expression');

const myChart = echarts.init(document.getElementById('main'));
myChart.setOption(option);
</script>
</body>
</html>
